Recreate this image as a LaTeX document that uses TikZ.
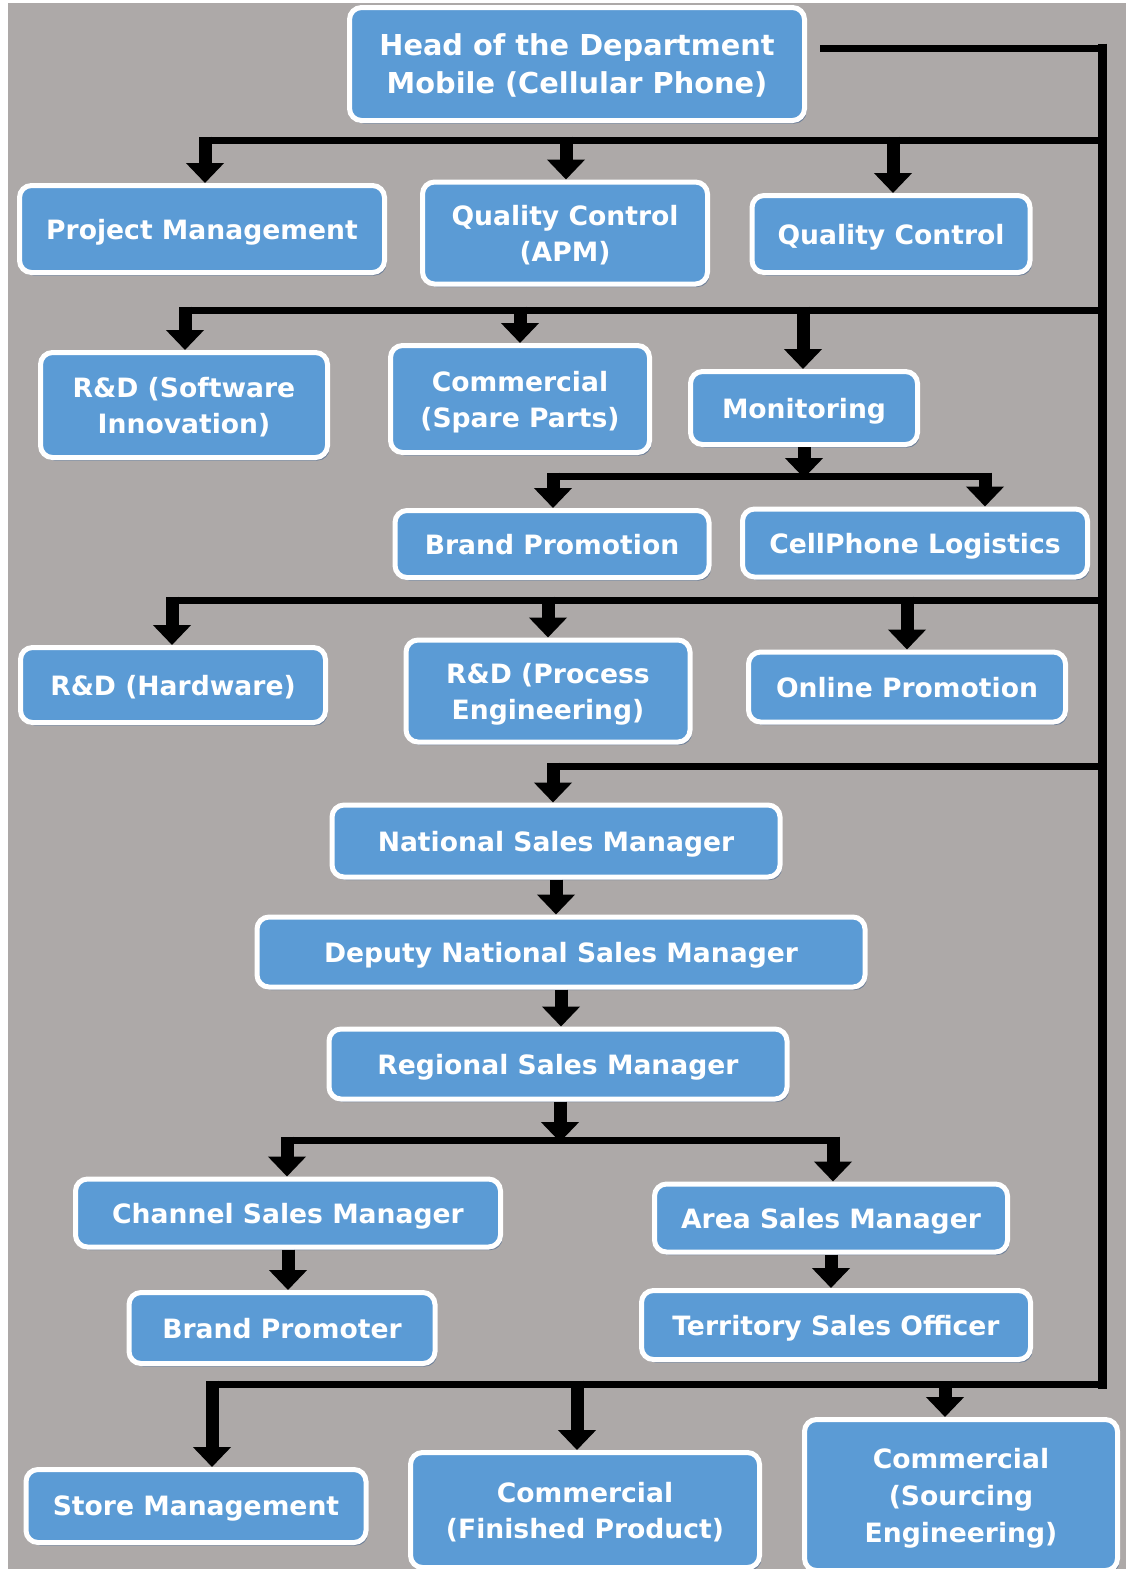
\documentclass[tikz,border=0pt]{standalone}
\usepackage{fontspec}
\setmainfont{DejaVu Sans}
\usetikzlibrary{arrows.meta,shadows,calc}
\definecolor{bgc}{HTML}{ADA9A8}
\definecolor{boxc}{HTML}{5B9BD5}
\definecolor{shadc}{HTML}{6C7E98}
\newcommand\orgfont{\fontsize{26.6}{36}\selectfont\bfseries}
\newcommand\orgheadfont{\fontsize{28.8}{38}\selectfont\bfseries}
\begin{document}
\begin{tikzpicture}[x=1pt,y=-1pt,
  box/.style={rounded corners=12pt, draw=white, line width=5pt, fill=boxc,
    text=white, font=\orgfont, align=center, inner sep=0pt, text depth=0pt,
    drop shadow={shadow xshift=2pt, shadow yshift=-3pt, fill=shadc, opacity=1}},
  sz/.style 2 args={minimum width={#1-5}, minimum height={#2-5}},
  wire/.style={line width=7pt},
  trunk/.style={line width=9pt},
  drop/.style={line width=13pt, -{Triangle[width=37pt,length=20pt]}},
]
\useasboundingbox (0,0) rectangle (1128,1569);
\clip (0,0) rectangle (1128,1569);
\fill[white] (0,0) rectangle (1128,1569);
\fill[bgc] (8,3) rectangle (1126,1569);

% boxes
\node[box, sz={460}{118}, font=\orgheadfont] (head) at (577,64) {Head of the Department\\Mobile (Cellular Phone)};
\node[box, sz={370}{92}]  (pm)    at (202,229) {Project Management};
\node[box, sz={290}{107}] (qcapm) at (565,233) {Quality Control\\(APM)};
\node[box, sz={283}{82}]  (qc)    at (891,234) {Quality Control};
\node[box, sz={292}{110}] (rdsw)  at (184,405) {R\&D (Software\\Innovation)};
\node[box, sz={264}{112}] (comsp) at (520,399) {Commercial\\(Spare Parts)};
\node[box, sz={232}{78}]  (mon)   at (804,408) {Monitoring};
\node[box, sz={319}{72}]  (brp)   at (552,544) {Brand Promotion};
\node[box, sz={350}{73}]  (cpl)   at (915,543) {CellPhone Logistics};
\node[box, sz={310}{80}]  (rdhw)  at (173,685) {R\&D (Hardware)};
\node[box, sz={289}{107}] (rdpe)  at (548,691) {R\&D (Process\\Engineering)};
\node[box, sz={322}{75}]  (onl)   at (907,687) {Online Promotion};
\node[box, sz={453}{77}]  (nsm)   at (556,841) {National Sales Manager};
\node[box, sz={613}{75}]  (dnsm)  at (561,952) {Deputy National Sales Manager};
\node[box, sz={463}{75}]  (rsm)   at (558,1064) {Regional Sales Manager};
\node[box, sz={430}{73}]  (csm)   at (288,1213) {Channel Sales Manager};
\node[box, sz={358}{73}]  (asm)   at (831,1218) {Area Sales Manager};
\node[box, sz={311}{76}]  (bpr)   at (282,1328) {Brand Promoter};
\node[box, sz={394}{74}]  (tso)   at (836,1325) {Territory Sales Officer};
\node[box, sz={345}{78}]  (store) at (196,1506) {Store Management};
\node[box, sz={354}{120}] (comfp) at (585,1510) {Commercial\\(Finished Product)};
\node[box, sz={318}{156}, font=\fontsize{26.6}{37}\selectfont\bfseries] (comse) at (961,1495) {Commercial\\(Sourcing\\Engineering)};

% trunk on the right
\coordinate (hs) at (820,48);
\coordinate (ttop) at (1102,43.5);
\coordinate (tbot) at (1102,1388.5);
\draw[wire] (hs) -- (ttop |- hs);
\draw[trunk] (ttop) -- (tbot);

% row A
\coordinate (ra) at (1102,140);
\coordinate (a1) at (205,136.5);
\coordinate (a2) at (566,136.5);
\coordinate (a3) at (893,136.5);
\draw[wire] (ra) -- (ra -| a1);
\draw[drop] (a1) -- (a1 |- pm.north);
\draw[drop] (a2) -- (a2 |- qcapm.north);
\draw[drop] (a3) -- (a3 |- qc.north);

% row B
\coordinate (rb) at (1102,310);
\coordinate (b1) at (185,306.5);
\coordinate (b2) at (520,306.5);
\coordinate (b3) at (803,306.5);
\draw[wire] (rb) -- (rb -| b1);
\draw[drop] (b1) -- (b1 |- rdsw.north);
\draw[drop] (b2) -- (b2 |- comsp.north);
\draw[drop] (b3) -- (b3 |- mon.north);

% monitoring split
\coordinate (m0) at (804,478);
\coordinate (m1) at (553,472.5);
\coordinate (m2) at (985,472.5);
\draw[drop] (mon.south) -- (m0);
\draw[wire] (553,476) -- (988,476);
\draw[drop] (m1) -- (m1 |- brp.north);
\draw[drop] (m2) -- (m2 |- cpl.north);

% row C
\coordinate (rc) at (1102,600);
\coordinate (c1) at (172,596.5);
\coordinate (c2) at (548,596.5);
\coordinate (c3) at (907,596.5);
\draw[wire] (rc) -- (rc -| c1);
\draw[drop] (c1) -- (c1 |- rdhw.north);
\draw[drop] (c2) -- (c2 |- rdpe.north);
\draw[drop] (c3) -- (c3 |- onl.north);

% row D and the sales chain
\coordinate (rd) at (1102,766);
\coordinate (d1) at (553,762.5);
\draw[wire] (rd) -- (rd -| d1);
\draw[drop] (d1) -- (d1 |- nsm.north);
\draw[drop] (nsm.south) -- (nsm.south |- dnsm.north);
\draw[drop] (dnsm.south) -- (dnsm.south |- rsm.north);
\coordinate (s0) at (560,1142);
\coordinate (s1) at (287,1136.5);
\coordinate (s2) at (833,1136.5);
\draw[drop] (rsm.south -| s0) -- (s0);
\draw[wire] (287,1140) -- (836,1140);
\draw[drop] (s1) -- (s1 |- csm.north);
\draw[drop] (s2) -- (s2 |- asm.north);
\draw[drop] (csm.south) -- (csm.south |- bpr.north);
\draw[drop] (asm.south) -- (asm.south |- tso.north);

% row E
\coordinate (re) at (1102,1384);
\coordinate (e1) at (212,1380.5);
\coordinate (e2) at (577,1380.5);
\coordinate (e3) at (945,1380.5);
\draw[wire] (re) -- (re -| e1);
\draw[drop] (e1) -- (e1 |- store.north);
\draw[drop] (e2) -- (e2 |- comfp.north);
\draw[drop] (e3) -- (e3 |- comse.north);
\end{tikzpicture}
\end{document}
